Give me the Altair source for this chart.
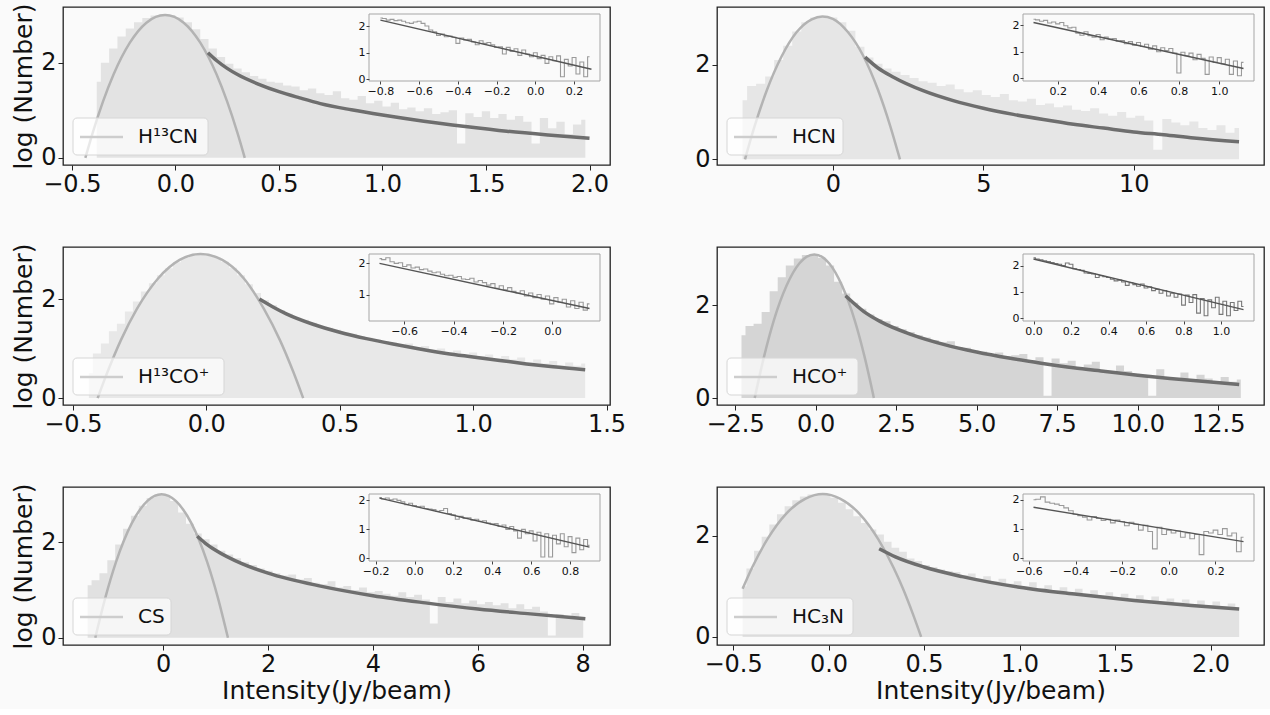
import altair as alt
import pandas as pd

FONT = "DejaVu Sans"
BG = "#fafafa"

# ======================= DATA =======================
# ---- H13CN ----
h13cn_hist_start, h13cn_hist_step = -0.38, 0.04
h13cn_hist = [1.60, 2.00, 2.30, 2.55, 2.72, 2.85, 2.94, 2.99, 3.02, 3.00,
              2.95, 2.85, 2.70, 2.50, 2.30, 2.12, 1.98, 1.88, 1.80, 1.72,
              1.66, 1.60, 1.58, 1.52, 1.50, 1.42, 1.46, 1.36, 1.32, 1.40,
              1.25, 1.22, 1.30, 1.15, 1.20, 1.08, 1.16, 1.02, 1.06, 0.98,
              1.04, 0.92, 0.96, 1.00, 0.30, 0.94, 0.86, 0.98, 0.84, 0.92,
              0.80, 0.88, 0.76, 0.30, 0.84, 0.62, 0.76, 0.50, 0.70, 0.80]
h13cn_gauss_x = [-0.435, -0.40, -0.35, -0.30, -0.22, -0.14, -0.05, 0.04, 0.12, 0.20, 0.25, 0.30, 0.335]
h13cn_gauss_y = [0.0, 0.52, 1.18, 1.74, 2.42, 2.84, 3.00, 2.84, 2.42, 1.74, 1.18, 0.52, 0.0]
h13cn_pow_x = [0.157, 0.20, 0.25, 0.30, 0.40, 0.50, 0.60, 0.70, 0.85, 1.00, 1.20, 1.40, 1.60, 1.80, 2.00]
h13cn_pow_y = [2.21, 2.04, 1.88, 1.75, 1.55, 1.39, 1.26, 1.14, 1.01, 0.90, 0.77, 0.66, 0.56, 0.48, 0.41]
h13cn_inset_start, h13cn_inset_step = -0.80, 0.02
h13cn_inset = [2.30, 2.28, 2.22, 2.25, 2.20, 2.22, 2.18, 2.12, 2.10, 2.15,
               2.18, 2.10, 2.00, 1.85, 1.78, 1.65, 1.70, 1.60, 1.62, 1.58,
               1.35, 1.55, 1.48, 1.50, 1.40, 1.30, 1.45, 1.35, 1.38, 1.30,
               1.20, 1.22, 0.95, 1.20, 1.05, 1.15, 0.90, 1.10, 0.95, 0.85,
               1.00, 0.78, 0.90, 0.60, 0.85, 0.70, 0.88, 0.10, 0.75, 0.50,
               0.82, 0.20, 0.65, 0.10, 0.85]
h13cn_fit_x = [-0.80, 0.29]
h13cn_fit_y = [2.22, 0.38]

# ---- HCN ----
hcn_hist_start, hcn_hist_step = -3.0, 0.3
hcn_hist = [1.25, 1.55, 1.60, 1.75, 2.10, 2.40, 2.70, 2.90, 3.00, 3.03,
            3.00, 2.90, 2.72, 2.38, 2.15, 2.02, 1.92, 1.85, 1.78, 1.72,
            1.65, 1.62, 1.55, 1.58, 1.48, 1.42, 1.46, 1.36, 1.32, 1.38,
            1.25, 1.22, 1.28, 1.15, 1.18, 1.10, 1.14, 1.05, 1.02, 1.08,
            0.97, 0.92, 1.00, 0.88, 0.92, 0.82, 0.20, 0.85, 0.78, 0.72,
            0.80, 0.66, 0.62, 0.72, 0.56, 0.66]
hcn_gauss_x = [-2.92, -2.6, -2.2, -1.7, -1.2, -0.7, -0.345, 0.0, 0.5, 1.0, 1.5, 1.9, 2.23]
hcn_gauss_y = [0.0, 0.70, 1.45, 2.18, 2.69, 2.96, 3.02, 2.97, 2.69, 2.20, 1.47, 0.72, 0.0]
hcn_pow_x = [1.07, 1.5, 2.0, 3.0, 4.0, 5.0, 6.0, 7.0, 8.0, 9.0, 10.0, 11.0, 12.0, 13.5]
hcn_pow_y = [2.16, 1.93, 1.74, 1.45, 1.24, 1.08, 0.95, 0.84, 0.74, 0.66, 0.58, 0.52, 0.45, 0.37]
hcn_inset_start, hcn_inset_step = 0.08, 0.02
hcn_inset = [2.22, 2.20, 2.15, 2.18, 2.08, 2.12, 2.05, 2.10, 1.98, 1.90,
             1.92, 1.70, 1.62, 1.75, 1.60, 1.55, 1.65, 1.45, 1.55, 1.48,
             1.50, 1.40, 1.42, 1.30, 1.38, 1.25, 1.35, 1.20, 1.28, 1.10,
             1.22, 1.00, 1.15, 1.05, 1.12, 0.95, 0.20, 0.98, 0.85, 0.95,
             0.70, 0.90, 0.75, 0.15, 0.80, 0.60, 0.78, 0.55, 0.72, 0.15,
             0.65, 0.10, 0.60]
hcn_fit_x = [0.08, 1.12]
hcn_fit_y = [2.10, 0.37]

# ---- H13CO+ ----
h13cop_hist_start, h13cop_hist_step = -0.44, 0.03
h13cop_hist = [0.50, 0.90, 1.10, 1.35, 1.50, 1.75, 1.95, 2.15, 2.32, 2.48,
               2.62, 2.74, 2.83, 2.89, 2.91, 2.89, 2.84, 2.75, 2.63, 2.48,
               2.30, 2.12, 1.98, 1.88, 1.78, 1.70, 1.62, 1.58, 1.52, 1.45,
               1.42, 1.38, 1.32, 1.30, 1.25, 1.22, 1.18, 1.15, 1.12, 1.08,
               1.10, 1.02, 1.05, 0.98, 1.00, 0.92, 0.96, 0.88, 0.92, 0.85,
               0.88, 0.80, 0.85, 0.78, 0.82, 0.72, 0.78, 0.70, 0.75, 0.66,
               0.72, 0.65, 0.70]
h13cop_gauss_x = [-0.407, -0.37, -0.32, -0.26, -0.18, -0.10, -0.022, 0.06, 0.14, 0.216, 0.276, 0.326, 0.363]
h13cop_gauss_y = [0.0, 0.53, 1.17, 1.80, 2.42, 2.79, 2.91, 2.79, 2.42, 1.80, 1.17, 0.53, 0.0]
h13cop_pow_x = [0.199, 0.25, 0.30, 0.40, 0.50, 0.60, 0.70, 0.80, 0.90, 1.00, 1.10, 1.20, 1.30, 1.42]
h13cop_pow_y = [2.00, 1.84, 1.70, 1.49, 1.33, 1.20, 1.09, 0.99, 0.90, 0.83, 0.76, 0.69, 0.63, 0.57]
h13cop_inset_start, h13cop_inset_step = -0.70, 0.017
h13cop_inset = [2.15, 2.12, 2.18, 2.05, 2.00, 2.02, 1.90, 1.95, 1.85, 1.88,
                1.80, 1.82, 1.75, 1.70, 1.72, 1.65, 1.60, 1.62, 1.55, 1.58,
                1.50, 1.48, 1.52, 1.40, 1.45, 1.38, 1.30, 1.35, 1.20, 1.28,
                1.15, 1.22, 1.10, 1.05, 1.12, 0.95, 1.05, 0.90, 1.00, 0.85,
                0.95, 0.70, 0.90, 0.75, 0.85, 0.60, 0.80, 0.55, 0.75, 0.50,
                0.70]
h13cop_fit_x = [-0.70, 0.15]
h13cop_fit_y = [2.00, 0.55]

# ---- HCO+ ----
hcop_hist_start, hcop_hist_step = -2.30, 0.25
hcop_hist = [1.35, 1.55, 1.60, 1.85, 2.30, 2.60, 2.85, 3.00, 3.08, 3.10,
             3.02, 2.85, 2.50, 2.25, 2.05, 1.92, 1.80, 1.70, 1.65, 1.55,
             1.48, 1.42, 1.35, 1.30, 1.25, 1.20, 1.22, 1.10, 1.08, 1.02,
             1.00, 0.95, 0.98, 0.90, 0.92, 0.95, 0.82, 0.88, 0.05, 0.85,
             0.75, 0.80, 0.65, 0.72, 0.78, 0.60, 0.55, 0.70, 0.58, 0.52,
             0.48, 0.05, 0.62, 0.45, 0.40, 0.55, 0.38, 0.50, 0.42, 0.30,
             0.45, 0.35, 0.40]
hcop_gauss_x = [-1.89, -1.6, -1.3, -0.9, -0.5, -0.04, 0.42, 0.82, 1.22, 1.52, 1.81]
hcop_gauss_y = [0.0, 0.89, 1.66, 2.42, 2.90, 3.09, 2.90, 2.42, 1.66, 0.89, 0.0]
hcop_pow_x = [0.93, 1.5, 2.0, 3.0, 4.0, 5.0, 6.0, 7.0, 8.0, 9.0, 10.0, 11.0, 12.0, 13.15]
hcop_pow_y = [2.20, 1.86, 1.65, 1.36, 1.15, 0.99, 0.86, 0.75, 0.65, 0.57, 0.49, 0.42, 0.36, 0.29]
hcop_inset_start, hcop_inset_step = 0.0, 0.02
hcop_inset = [2.30, 2.25, 2.22, 2.18, 2.15, 2.12, 2.08, 2.05, 2.00, 2.10,
              2.05, 1.88, 1.85, 1.82, 1.72, 1.70, 1.68, 1.55, 1.62, 1.58,
              1.55, 1.48, 1.42, 1.45, 1.38, 1.25, 1.35, 1.28, 1.22, 1.30,
              1.15, 1.20, 1.05, 1.10, 0.95, 1.05, 0.85, 0.95, 0.80, 0.92,
              0.50, 0.88, 0.60, 0.90, 0.20, 0.75, 0.10, 0.70, 0.40, 0.80,
              0.15, 0.65, 0.10, 0.60, 0.30, 0.65, 0.45]
hcop_fit_x = [0.0, 1.12]
hcop_fit_y = [2.25, 0.33]

# ---- CS ----
cs_hist_start, cs_hist_step = -1.44, 0.15
cs_hist = [1.10, 1.20, 1.35, 1.62, 1.95, 2.28, 2.55, 2.76, 2.92, 3.00,
           2.98, 2.86, 2.62, 2.38, 2.18, 2.06, 1.95, 1.82, 1.74, 1.66,
           1.58, 1.52, 1.45, 1.40, 1.35, 1.30, 1.32, 1.22, 1.25, 1.15,
           1.12, 1.18, 1.05, 1.08, 1.00, 1.05, 0.95, 0.98, 0.92, 0.88,
           0.95, 0.85, 0.90, 0.80, 0.30, 0.85, 0.75, 0.82, 0.72, 0.78,
           0.70, 0.75, 0.68, 0.72, 0.62, 0.70, 0.60, 0.65, 0.55, 0.05,
           0.50, 0.45, 0.52, 0.40]
cs_gauss_x = [-1.295, -1.1, -0.9, -0.6, -0.3, -0.03, 0.24, 0.54, 0.84, 1.04, 1.235]
cs_gauss_y = [0.0, 0.85, 1.58, 2.39, 2.86, 3.00, 2.86, 2.39, 1.58, 0.85, 0.0]
cs_pow_x = [0.65, 0.8, 1.0, 1.5, 2.0, 3.0, 4.0, 5.0, 6.0, 7.0, 8.05]
cs_pow_y = [2.12, 1.98, 1.83, 1.55, 1.35, 1.08, 0.88, 0.73, 0.60, 0.50, 0.40]
cs_inset_start, cs_inset_step = -0.18, 0.02
cs_inset = [2.10, 2.05, 2.08, 2.02, 2.05, 2.00, 1.95, 1.85, 1.90, 1.82,
            1.78, 1.80, 1.72, 1.70, 1.68, 1.62, 1.65, 1.72, 1.55, 1.50,
            1.35, 1.45, 1.38, 1.40, 1.32, 1.35, 1.28, 1.30, 1.22, 1.18,
            1.20, 1.10, 1.15, 1.00, 1.10, 0.95, 0.70, 1.00, 0.85, 0.95,
            0.60, 0.90, 0.05, 0.85, 0.05, 0.80, 0.50, 0.85, 0.40, 0.75,
            0.20, 0.70, 0.30, 0.65, 0.45]
cs_fit_x = [-0.18, 0.90]
cs_fit_y = [2.08, 0.39]

# ---- HC3N ----
hc3n_hist_start, hc3n_hist_step = -0.45, 0.04
hc3n_hist = [1.00, 1.35, 1.70, 1.98, 2.22, 2.42, 2.58, 2.70, 2.77, 2.81,
             2.82, 2.80, 2.75, 2.65, 2.52, 2.38, 2.25, 2.12, 2.02, 1.88,
             1.76, 1.68, 1.55, 1.50, 1.42, 1.38, 1.33, 1.30, 1.28, 1.22,
             1.25, 1.15, 1.20, 1.10, 1.15, 1.05, 1.10, 1.00, 1.08, 0.95,
             1.02, 0.92, 0.98, 0.88, 0.95, 0.85, 0.92, 0.82, 0.88, 0.78,
             0.85, 0.76, 0.82, 0.72, 0.80, 0.70, 0.76, 0.68, 0.74, 0.65,
             0.72, 0.62, 0.70, 0.60, 0.66, 0.58]
hc3n_gauss_x = [-0.45, -0.40, -0.32, -0.22, -0.12, -0.03, 0.06, 0.16, 0.26, 0.34, 0.39, 0.44, 0.485]
hc3n_gauss_y = [0.95, 1.37, 1.93, 2.44, 2.73, 2.82, 2.73, 2.44, 1.93, 1.37, 0.95, 0.47, 0.0]
hc3n_pow_x = [0.265, 0.35, 0.5, 0.7, 1.0, 1.3, 1.6, 1.9, 2.15]
hc3n_pow_y = [1.74, 1.58, 1.38, 1.19, 0.98, 0.84, 0.72, 0.62, 0.55]
hc3n_inset_start, hc3n_inset_step = -0.58, 0.02
hc3n_inset = [2.00, 2.02, 2.10, 1.92, 1.88, 1.85, 1.80, 1.72, 1.62, 1.50,
              1.45, 1.40, 1.30, 1.42, 1.35, 1.28, 1.32, 1.20, 1.30, 1.25,
              1.10, 1.22, 1.15, 0.95, 1.12, 0.90, 0.30, 1.05, 0.80, 0.95,
              0.85, 0.92, 0.70, 0.85, 0.65, 0.80, 0.10, 0.90, 0.85, 0.95,
              0.80, 1.00, 0.75, 0.85, 0.20, 0.70]
hc3n_fit_x = [-0.58, 0.32]
hc3n_fit_y = [1.74, 0.55]

labels = ["H¹³CN", "HCN", "H¹³CO⁺", "HCO⁺", "CS", "HC₃N"]

# ======================= STYLE / LAYOUT =======================
W, H = 547, 158
IX0, IX1, IY0, IY1 = 306, 537, 7, 74

panels = [
    dict(label=labels[0], hs=h13cn_hist_start, hw=h13cn_hist_step, hist=h13cn_hist,
         gx=h13cn_gauss_x, gy=h13cn_gauss_y, px=h13cn_pow_x, py=h13cn_pow_y,
         isx=h13cn_inset_start, isw=h13cn_inset_step, ins=h13cn_inset, fx=h13cn_fit_x, fy=h13cn_fit_y,
         xdom=[-0.543, 2.099], ydom=[-0.15, 3.17], xticks=[-0.5, 0.0, 0.5, 1.0, 1.5, 2.0], xfmt=".1f",
         ixdom=[-0.859, 0.334], iydom=[-0.06, 2.45], ixticks=[-0.8, -0.6, -0.4, -0.2, 0.0, 0.2], iyticks=[0, 1, 2],
         fill="#e3e3e3", icol="#9a9a9a", legw=135),
    dict(label=labels[1], hs=hcn_hist_start, hw=hcn_hist_step, hist=hcn_hist,
         gx=hcn_gauss_x, gy=hcn_gauss_y, px=hcn_pow_x, py=hcn_pow_y,
         isx=hcn_inset_start, isw=hcn_inset_step, ins=hcn_inset, fx=hcn_fit_x, fy=hcn_fit_y,
         xdom=[-3.85, 14.33], ydom=[-0.12, 3.22], xticks=[0, 5, 10], xfmt="d",
         ixdom=[0.028, 1.172], iydom=[-0.1, 2.42], ixticks=[0.2, 0.4, 0.6, 0.8, 1.0], iyticks=[0, 1, 2],
         fill="#e6e6e6", icol="#9a9a9a", legw=116),
    dict(label=labels[2], hs=h13cop_hist_start, hw=h13cop_hist_step, hist=h13cop_hist,
         gx=h13cop_gauss_x, gy=h13cop_gauss_y, px=h13cop_pow_x, py=h13cop_pow_y,
         isx=h13cop_inset_start, isw=h13cop_inset_step, ins=h13cop_inset, fx=h13cop_fit_x, fy=h13cop_fit_y,
         xdom=[-0.537, 1.513], ydom=[-0.14, 3.05], xticks=[-0.5, 0.0, 0.5, 1.0, 1.5], xfmt=".1f",
         ixdom=[-0.7425, 0.1925], iydom=[0.15, 2.3], ixticks=[-0.6, -0.4, -0.2, 0.0], iyticks=[1, 2],
         fill="#e8e8e8", icol="#9a9a9a", legw=151),
    dict(label=labels[3], hs=hcop_hist_start, hw=hcop_hist_step, hist=hcop_hist,
         gx=hcop_gauss_x, gy=hcop_gauss_y, px=hcop_pow_x, py=hcop_pow_y,
         isx=hcop_inset_start, isw=hcop_inset_step, ins=hcop_inset, fx=hcop_fit_x, fy=hcop_fit_y,
         xdom=[-3.06, 13.92], ydom=[-0.15, 3.25], xticks=[-2.5, 0.0, 2.5, 5.0, 7.5, 10.0, 12.5], xfmt=".1f",
         ixdom=[-0.056, 1.176], iydom=[-0.1, 2.44], ixticks=[0.0, 0.2, 0.4, 0.6, 0.8, 1.0], iyticks=[0, 1, 2],
         fill="#d5d5d5", icol="#777777", legw=131),
    dict(label=labels[4], hs=cs_hist_start, hw=cs_hist_step, hist=cs_hist,
         gx=cs_gauss_x, gy=cs_gauss_y, px=cs_pow_x, py=cs_pow_y,
         isx=cs_inset_start, isw=cs_inset_step, ins=cs_inset, fx=cs_fit_x, fy=cs_fit_y,
         xdom=[-1.91, 8.52], ydom=[-0.15, 3.15], xticks=[0, 2, 4, 6, 8], xfmt="d",
         ixdom=[-0.234, 0.954], iydom=[-0.09, 2.22], ixticks=[-0.2, 0.0, 0.2, 0.4, 0.6, 0.8], iyticks=[0, 1, 2],
         fill="#e1e1e1", icol="#9a9a9a", legw=98),
    dict(label=labels[5], hs=hc3n_hist_start, hw=hc3n_hist_step, hist=hc3n_hist,
         gx=hc3n_gauss_x, gy=hc3n_gauss_y, px=hc3n_pow_x, py=hc3n_pow_y,
         isx=hc3n_inset_start, isw=hc3n_inset_step, ins=hc3n_inset, fx=hc3n_fit_x, fy=hc3n_fit_y,
         xdom=[-0.584, 2.28], ydom=[-0.16, 2.96], xticks=[-0.5, 0.0, 0.5, 1.0, 1.5, 2.0], xfmt=".1f",
         ixdom=[-0.625, 0.365], iydom=[-0.12, 2.2], ixticks=[-0.6, -0.4, -0.2, 0.0, 0.2], iyticks=[0, 1, 2],
         fill="#e2e2e2", icol="#9a9a9a", legw=126),
]

ONE = pd.DataFrame({"a": [0]})


def build(p, first_col, last_row):
    xs = alt.Scale(domain=p["xdom"], nice=False, zero=False)
    ys = alt.Scale(domain=p["ydom"], nice=False, zero=False)
    hx = [round(p["hs"] + p["hw"] * i, 4) for i in range(len(p["hist"]))]
    hist_df = pd.DataFrame({"x": hx, "y": p["hist"]})
    x_axis = alt.Axis(values=p["xticks"], format=p["xfmt"],
                      title="Intensity(Jy/beam)" if last_row else None,
                      labelFontSize=24, titleFontSize=25, tickSize=5, labelPadding=2,
                      titlePadding=2, labelFlush=False, labelOverlap=False)
    y_axis = alt.Axis(values=[0, 2], format="d",
                      title="log (Number)" if first_col else None,
                      labelFontSize=24, titleFontSize=25, tickSize=5, labelPadding=2,
                      titlePadding=4, labelFlush=False, labelOverlap=False)
    hist = alt.Chart(hist_df).mark_area(interpolate="step", color=p["fill"]).encode(
        x=alt.X("x:Q", scale=xs, axis=x_axis),
        y=alt.Y("y:Q", scale=ys, axis=y_axis),
        y2=alt.datum(0),
    )
    gauss = alt.Chart(pd.DataFrame({"x": p["gx"], "y": p["gy"]})).mark_line(
        color="#b3b3b3", strokeWidth=2.5, interpolate="monotone").encode(
        x=alt.X("x:Q", scale=xs), y=alt.Y("y:Q", scale=ys))
    power = alt.Chart(pd.DataFrame({"x": p["px"], "y": p["py"]})).mark_line(
        color="#6e6e6e", strokeWidth=3.5, interpolate="monotone").encode(
        x=alt.X("x:Q", scale=xs), y=alt.Y("y:Q", scale=ys))
    leg_box = alt.Chart(ONE).mark_rect(fill="white", fillOpacity=0.7, stroke="#d6d6d6",
                                       strokeWidth=1, cornerRadius=4).encode(
        x=alt.value(10), x2=alt.value(10 + p["legw"]), y=alt.value(111), y2=alt.value(148))
    leg_line = alt.Chart(ONE).mark_rule(color="#cdcdcd", strokeWidth=2.5).encode(
        x=alt.value(17), x2=alt.value(60), y=alt.value(130))
    leg_text = alt.Chart(ONE).mark_text(text=p["label"], align="left", baseline="middle",
                                        fontSize=20, font=FONT, color="#111111").encode(
        x=alt.value(75), y=alt.value(130))
    main = alt.layer(hist, gauss, power, leg_box, leg_line, leg_text)

    ixs = alt.Scale(domain=p["ixdom"], range=[IX0, IX1], nice=False, zero=False)
    iys = alt.Scale(domain=p["iydom"], range=[IY1, IY0], nice=False, zero=False)
    ix = [round(p["isx"] + p["isw"] * i, 4) for i in range(len(p["ins"]))]
    frame = alt.Chart(ONE).mark_rect(fill=BG, stroke="#a6a6a6", strokeWidth=1).encode(
        x=alt.value(IX0), x2=alt.value(IX1), y=alt.value(IY0), y2=alt.value(IY1))
    steps = alt.Chart(pd.DataFrame({"x": ix, "y": p["ins"]})).mark_line(
        interpolate="step", color=p["icol"], strokeWidth=1.1).encode(
        x=alt.X("x:Q", scale=ixs, axis=alt.Axis(orient="bottom", offset=IY1 - H, values=p["ixticks"],
                                                 format=".1f", title=None, labelFontSize=11, tickSize=3,
                                                 labelPadding=1, zindex=1, labelFlush=False,
                                                 labelOverlap=False, tickColor="#444444")),
        y=alt.Y("y:Q", scale=iys, axis=alt.Axis(orient="left", offset=-IX0, values=p["iyticks"],
                                                 format="d", title=None, labelFontSize=11, tickSize=3,
                                                 labelPadding=1, zindex=1, labelFlush=False,
                                                 labelOverlap=False, tickColor="#444444")),
    )
    fit = alt.Chart(pd.DataFrame({"x": p["fx"], "y": p["fy"]})).mark_line(
        color="#555555", strokeWidth=1.4).encode(
        x=alt.X("x:Q", scale=ixs), y=alt.Y("y:Q", scale=iys))
    inset = alt.layer(frame, steps, fit)

    return alt.layer(main, inset).resolve_scale(x="independent", y="independent").properties(
        width=W, height=H)


cells = [build(panels[i], i % 2 == 0, i >= 4) for i in range(6)]

chart = alt.concat(*cells, columns=2, spacing={"row": 82, "column": 107}, bounds="flush").properties(
    padding={"left": 11, "top": 2, "right": 5, "bottom": 5}
).configure(background=BG, font=FONT).configure_view(
    stroke="#222222", strokeWidth=1.3
).configure_axis(
    labelFont=FONT, titleFont=FONT, labelColor="#111111", titleColor="#111111",
    tickColor="#222222", domain=False, grid=False, titleFontWeight="normal"
)

chart.save("out.html", embed_options={"renderer": "svg", "actions": False})
